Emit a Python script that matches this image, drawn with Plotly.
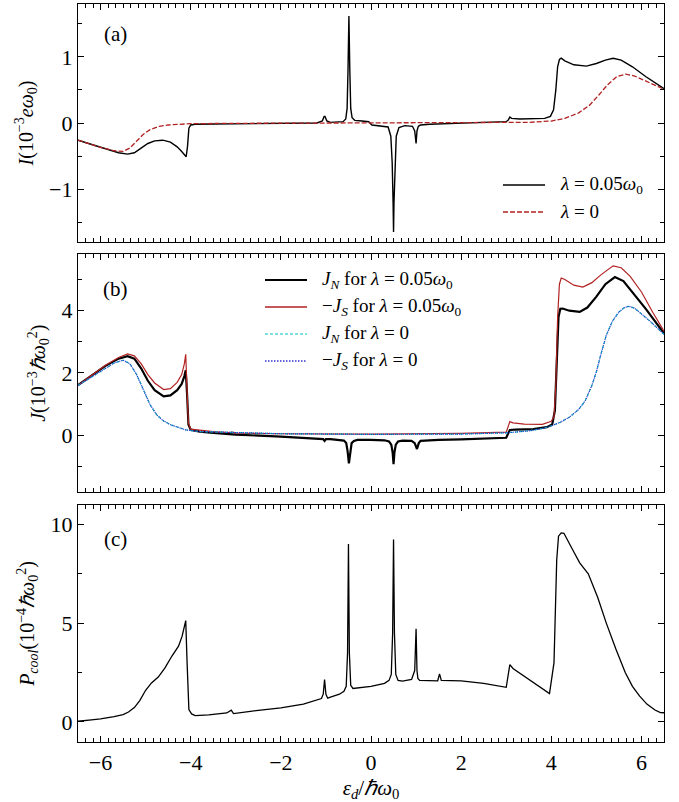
import plotly.graph_objects as go

# ---------------- panel (a): current I ----------------
a_x_lam = [-6.5, -6.0, -5.6, -5.4, -5.25, -5.1, -4.95, -4.8, -4.62, -4.45, -4.3, -4.2, -4.13, -4.10,
           -4.07, -4.04, -4.0, -3.9, -3.5, -3.0, -2.0, -1.2, -1.08, -1.04, -1.02, -0.98, -0.9, -0.7,
           -0.62, -0.56, -0.53, -0.51, -0.49, -0.47, -0.45, -0.42, -0.36, -0.2, -0.05, 0.02, 0.2,
           0.38, 0.44, 0.47, 0.49, 0.50, 0.51, 0.53, 0.56, 0.62, 0.75, 0.92, 0.97, 1.0, 1.02, 1.05,
           1.1, 1.3, 1.6, 2.0, 2.5, 3.0, 3.05, 3.08, 3.12, 3.3, 3.6, 3.85, 3.98, 4.05, 4.1, 4.14,
           4.18, 4.22, 4.3, 4.5, 4.78, 5.0, 5.2, 5.37, 5.55, 5.8, 6.1, 6.5]
a_I_lam = [-0.26, -0.37, -0.45, -0.47, -0.45, -0.38, -0.31, -0.27, -0.26, -0.29, -0.36, -0.43, -0.49, -0.51,
           -0.35, -0.08, -0.03, -0.02, -0.015, -0.01, -0.005, 0.0, 0.03, 0.1, 0.1, 0.03, 0.01, 0.01,
           0.02, 0.06, 0.22, 0.8, 1.62, 0.8, 0.22, 0.08, 0.04, 0.03, 0.02, -0.03, -0.04,
           -0.06, -0.2, -0.6, -1.2, -1.65, -1.2, -0.6, -0.2, -0.07, -0.04, -0.05, -0.12, -0.31, -0.12, -0.05,
           -0.03, -0.02, -0.01, 0.0, 0.01, 0.02, 0.05, 0.09, 0.07, 0.06, 0.06, 0.07, 0.1, 0.2, 0.5, 0.85,
           0.96, 0.98, 0.94, 0.88, 0.86, 0.9, 0.95, 0.98, 0.95, 0.85, 0.7, 0.52]

a_x_0 = [-6.5, -6.0, -5.7, -5.5, -5.35, -5.2, -5.05, -4.9, -4.7, -4.5, -4.2, -4.0, -3.0, 0.0, 2.5,
         3.5, 4.0, 4.3, 4.6, 4.85, 5.05, 5.25, 5.45, 5.65, 5.85, 6.1, 6.5]
a_I_0 = [-0.26, -0.37, -0.42, -0.43, -0.38, -0.27, -0.17, -0.1, -0.05, -0.03, -0.015, -0.01, -0.005, 0.0, 0.0,
         0.01, 0.03, 0.07, 0.15, 0.27, 0.42, 0.58, 0.7, 0.74, 0.71, 0.63, 0.51]

# ---------------- panel (b): heat currents J ----------------
b_x_JN = [-6.5, -6.2, -5.9, -5.6, -5.4, -5.25, -5.1, -4.95, -4.8, -4.6, -4.45, -4.3, -4.2, -4.14, -4.11,
          -4.08, -4.05, -4.0, -3.8, -3.5, -3.1, -3.0, -2.0, -1.2, -1.06, -1.03, -1.0, -0.9, -0.7,
          -0.6, -0.55, -0.52, -0.49, -0.46, -0.43, -0.38, -0.3, 0.0, 0.3, 0.4, 0.45, 0.48, 0.50, 0.52,
          0.55, 0.6, 0.7, 0.9, 0.97, 1.02, 1.06, 1.1, 1.2, 1.5, 2.0, 2.5, 3.0, 3.04, 3.08, 3.2, 3.6,
          3.9, 4.02, 4.08, 4.12, 4.16, 4.2, 4.25, 4.4, 4.63, 4.8, 5.0, 5.2, 5.41, 5.6, 5.8, 6.1, 6.5]
b_JN = [1.61, 1.92, 2.22, 2.46, 2.54, 2.46, 2.15, 1.75, 1.45, 1.25, 1.28, 1.45, 1.65, 1.9, 2.09,
        1.3, 0.35, 0.18, 0.12, 0.08, 0.04, 0.02, -0.04, -0.1, -0.12, -0.18, -0.12, -0.12, -0.14,
        -0.17, -0.25, -0.5, -0.9, -0.5, -0.25, -0.18, -0.15, -0.15, -0.16, -0.2, -0.3, -0.55, -0.93, -0.55,
        -0.3, -0.2, -0.17, -0.18, -0.25, -0.44, -0.25, -0.18, -0.17, -0.15, -0.13, -0.1, -0.08, 0.05, 0.17, 0.18, 0.2,
        0.26, 0.35, 0.8, 2.5, 3.8, 4.06, 4.07, 4.0, 3.96, 4.1, 4.45, 4.85, 5.08, 4.95, 4.6, 4.05, 3.27]

b_x_JS = [-6.5, -6.2, -5.9, -5.6, -5.4, -5.25, -5.1, -4.95, -4.8, -4.6, -4.45, -4.3, -4.2, -4.14, -4.11,
          -4.08, -4.05, -4.0, -3.5, -3.15, -3.07, -3.0, -2.0, 0.0, 2.0, 3.0, 3.04, 3.08, 3.15, 3.4,
          3.8, 4.0, 4.06, 4.1, 4.14, 4.18, 4.22, 4.3, 4.5, 4.7, 4.9, 5.1, 5.37, 5.55, 5.75, 6.0, 6.25, 6.5]
b_mJS = [1.61, 1.93, 2.24, 2.5, 2.61, 2.55, 2.3, 1.95, 1.68, 1.47, 1.5, 1.7, 1.95, 2.3, 2.6,
         1.4, 0.4, 0.2, 0.12, 0.09, 0.1, 0.07, 0.05, 0.04, 0.06, 0.1, 0.3, 0.44, 0.4, 0.36,
         0.35, 0.45, 0.6, 1.6, 3.8, 4.85, 5.05, 5.0, 4.82, 4.76, 4.9, 5.15, 5.44, 5.38, 5.1, 4.6, 3.95, 3.34]

b_x_0 = [-6.5, -6.2, -5.9, -5.7, -5.5, -5.35, -5.2, -5.05, -4.9, -4.75, -4.6, -4.45, -4.3, -4.1, -3.8,
         -3.0, -2.0, 0.0, 2.0, 3.0, 3.5, 3.8, 4.0, 4.2, 4.4, 4.6, 4.75, 4.9, 5.0, 5.1, 5.22, 5.35,
         5.5, 5.62, 5.72, 5.85, 6.0, 6.2, 6.5]
b_J_0 = [1.6, 1.88, 2.15, 2.32, 2.41, 2.3, 1.95, 1.45, 0.98, 0.65, 0.46, 0.34, 0.26, 0.17, 0.12,
         0.08, 0.05, 0.03, 0.04, 0.08, 0.14, 0.22, 0.3, 0.42, 0.58, 0.82, 1.1, 1.6, 2.04, 2.6, 3.21, 3.65,
         3.96, 4.1, 4.14, 4.08, 3.9, 3.65, 3.24]

# ---------------- panel (c): cooling power ----------------
c_x = [-6.5, -6.35, -6.2, -6.0, -5.85, -5.7, -5.5, -5.38, -5.25, -5.13, -5.0, -4.87, -4.72, -4.57,
       -4.42, -4.27, -4.19, -4.14, -4.11, -4.08, -4.04, -3.98, -3.9, -3.6, -3.2, -3.1, -3.05, -2.5,
       -2.0, -1.5, -1.1, -1.06, -1.03, -1.0, -0.96, -0.9, -0.7, -0.6, -0.55, -0.52, -0.5, -0.48,
       -0.45, -0.4, -0.3, 0.0, 0.3, 0.4, 0.45, 0.48, 0.5, 0.52, 0.55, 0.6, 0.7, 0.9, 0.97, 1.0,
       1.02, 1.04, 1.08, 1.2, 1.48, 1.52, 1.56, 2.0, 2.5, 3.0, 3.04, 3.08, 3.15, 3.4, 3.7, 3.96,
       4.06, 4.12, 4.16, 4.22, 4.28, 4.37, 4.5, 4.63, 4.82, 5.03, 5.22, 5.43, 5.64, 5.8, 5.96,
       6.12, 6.3, 6.42, 6.5]
c_P = [0.03, 0.05, 0.1, 0.15, 0.2, 0.27, 0.37, 0.5, 0.72, 1.08, 1.6, 1.97, 2.27, 2.73,
       3.32, 3.83, 4.34, 4.8, 5.13, 3.0, 0.62, 0.4, 0.32, 0.35, 0.45, 0.59, 0.42, 0.58,
       0.71, 0.9, 1.18, 1.4, 2.14, 1.4, 1.2, 1.25, 1.4, 1.55, 1.8, 3.5, 9.01, 3.5,
       1.85, 1.69, 1.72, 1.8, 1.95, 2.1, 2.4, 4.5, 9.23, 4.5, 2.4, 2.1, 2.06, 2.15, 2.6, 4.71,
       2.6, 2.2, 2.1, 2.1, 2.08, 2.43, 2.1, 2.07, 1.95, 1.75, 2.3, 2.9, 2.7, 2.3, 1.85, 1.43,
       3.0, 8.2, 9.4, 9.57, 9.55, 9.14, 8.6, 8.05, 7.5, 6.3, 5.0, 3.7, 2.5, 1.8, 1.3,
       0.9, 0.6, 0.47, 0.46]

SERIF = "Liberation Serif"
RED = "#b22222"
CYAN = "#00bfbf"
BLUE = "#3333cc"

W, H = 679, 802
ML, MR, MT, MB = 78, 15, 4, 60
PW, PH = W - ML - MR, H - MT - MB


def px_x(px):
    return (px - ML) / PW


def px_y(py):
    return (H - MB - py) / PH


XRANGE = [-6.5, 6.5]
X_MINOR = 1 / 6
domains = [(px_y(242), 1.0), (px_y(492), px_y(254.3)), (0.0, px_y(505))]
yranges = [(-1.8, 1.8), (-1.82, 5.81), (-1.02, 10.98)]
ydticks = [1, 2, 5]
yminor = [0.5, 1, 2.5]
ytitles = ["<i>I</i>(10<sup>−3</sup><i>eω</i><sub>0</sub>)",
           "<i>J</i>(10<sup>−3</sup><i>ℏω</i><sub>0</sub><sup>2</sup>)",
           "<i>P<sub>cool</sub></i>(10<sup>−4</sup><i>ℏω</i><sub>0</sub><sup>2</sup>)"]

fig = go.Figure()

# each panel: data on (xN, yN); a twin pair (xN+3, yN+3) carries the short minor ticks
panels = [
    [(a_x_lam, a_I_lam, dict(color="black", width=1.4)),
     (a_x_0, a_I_0, dict(color=RED, width=1.3, dash="5px,2px"))],
    [(b_x_JN, b_JN, dict(color="black", width=2.2)),
     (b_x_JS, b_mJS, dict(color=RED, width=1.2)),
     (b_x_0, b_J_0, dict(color=CYAN, width=1.2, dash="3px,2px")),
     (b_x_0, b_J_0, dict(color=BLUE, width=1.2, dash="1px,1px"))],
    [(c_x, c_P, dict(color="black", width=1.3))],
]

major_axis = dict(showline=True, linecolor="black", linewidth=1.2, mirror="allticks",
                  ticks="inside", ticklen=6, tickwidth=1.2, tickcolor="black",
                  showgrid=False, zeroline=False, tickmode="linear", tick0=0,
                  tickfont=dict(family=SERIF, size=22, color="black"))
minor_axis = dict(showline=False, mirror="allticks",
                  ticks="inside", ticklen=4, tickwidth=1.1, tickcolor="black",
                  showgrid=False, zeroline=False, showticklabels=False, tickmode="linear", tick0=0)

layout_axes = {}
for i, traces in enumerate(panels):
    r = i + 1
    mx, my = r, r + 3
    for xs, ys, ln in traces:
        fig.add_trace(go.Scatter(x=xs, y=ys, mode="lines", line=ln, xaxis=f"x{mx}", yaxis=f"y{mx}"))
    # minor-tick twin shares the same data extent
    fig.add_trace(go.Scatter(x=XRANGE, y=list(yranges[i]), mode="lines", line=dict(width=0),
                             xaxis=f"x{my}", yaxis=f"y{my}", hoverinfo="skip"))
    layout_axes[f"xaxis{mx}"] = dict(domain=[0, 1], anchor=f"y{mx}", range=XRANGE, dtick=2,
                                     showticklabels=(r == 3), **major_axis)
    layout_axes[f"yaxis{mx}"] = dict(domain=list(domains[i]), anchor=f"x{mx}", range=list(yranges[i]),
                                     dtick=ydticks[i],
                                     title=dict(text=ytitles[i], font=dict(family=SERIF, size=20, color="black"),
                                                standoff=10),
                                     **major_axis)
    layout_axes[f"xaxis{my}"] = dict(domain=[0, 1], anchor=f"y{my}", range=XRANGE, dtick=X_MINOR, **minor_axis)
    layout_axes[f"yaxis{my}"] = dict(domain=list(domains[i]), anchor=f"x{my}", range=list(yranges[i]),
                                     dtick=yminor[i], **minor_axis)

fig.update_layout(**layout_axes)
fig.update_layout(xaxis3_title=dict(text="<i>ε<sub>d</sub></i>/<i>ℏω</i><sub>0</sub>",
                                    font=dict(family=SERIF, size=21, color="black"), standoff=6))

# panel tags
for lab, py in [("(a)", 34), ("(b)", 289), ("(c)", 539)]:
    fig.add_annotation(text=lab, x=px_x(115), y=px_y(py), xref="paper", yref="paper",
                       showarrow=False, xanchor="center", yanchor="middle",
                       font=dict(family=SERIF, size=21, color="black"))

# legends, drawn as line samples with text beside them
LEG_FONT = dict(family=SERIF, size=19, color="black")
leg_a = [("<i>λ</i> = 0.05<i>ω</i><sub>0</sub>", "black", 1.4, "solid", 185),
         ("<i>λ</i> = 0", RED, 1.3, "5px,2px", 212)]
for text, col, w, dash, py in leg_a:
    fig.add_shape(type="line", xref="paper", yref="paper", x0=px_x(503), x1=px_x(545),
                  y0=px_y(py), y1=px_y(py), line=dict(color=col, width=w, dash=dash))
    fig.add_annotation(text=text, x=px_x(558), y=px_y(py), xref="paper", yref="paper",
                       showarrow=False, xanchor="left", yanchor="middle", font=LEG_FONT)

leg_b = [("<i>J<sub>N</sub></i> for <i>λ</i> = 0.05<i>ω</i><sub>0</sub>", "black", 2.2, "solid", 280),
         ("−<i>J<sub>S</sub></i> for <i>λ</i> = 0.05<i>ω</i><sub>0</sub>", RED, 1.6, "solid", 307),
         ("<i>J<sub>N</sub></i> for <i>λ</i> = 0", CYAN, 1.2, "3px,2px", 334),
         ("−<i>J<sub>S</sub></i> for <i>λ</i> = 0", BLUE, 1.6, "1.5px,1.5px", 361)]
for text, col, w, dash, py in leg_b:
    fig.add_shape(type="line", xref="paper", yref="paper", x0=px_x(265), x1=px_x(307),
                  y0=px_y(py), y1=px_y(py), line=dict(color=col, width=w, dash=dash))
    fig.add_annotation(text=text, x=px_x(320), y=px_y(py), xref="paper", yref="paper",
                       showarrow=False, xanchor="left", yanchor="middle", font=LEG_FONT)

fig.update_layout(
    width=W, height=H, showlegend=False,
    margin=dict(l=ML, r=MR, t=MT, b=MB),
    paper_bgcolor="rgba(0,0,0,0)", plot_bgcolor="rgba(0,0,0,0)",
    font=dict(family=SERIF, color="black"),
)

fig.write_html("out.html")
